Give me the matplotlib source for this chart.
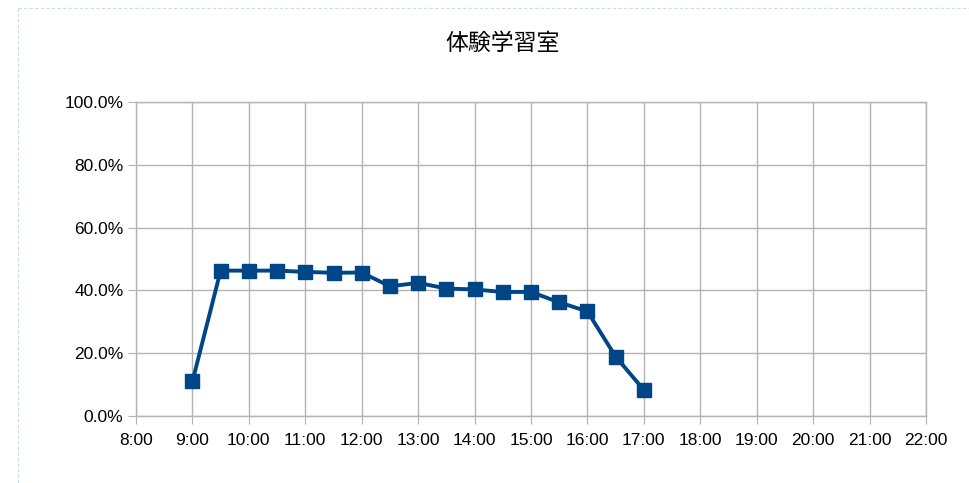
import numpy as np
import matplotlib.pyplot as plt
from matplotlib.lines import Line2D

plt.rcParams['font.family'] = ['Liberation Sans', 'Noto Sans CJK JP', 'DejaVu Sans']

# data (usage rate per half hour)
times = ['9:00', '9:30', '10:00', '10:30', '11:00', '11:30', '12:00', '12:30',
         '13:00', '13:30', '14:00', '14:30', '15:00', '15:30', '16:00', '16:30', '17:00']
rates = [11.0, 46.3, 46.3, 46.3, 45.9, 45.6, 45.7, 41.3,
         42.4, 40.6, 40.3, 39.5, 39.5, 36.2, 33.3, 18.9, 8.3]
hour_ticks = list(range(8, 23))
hour_labels = [f'{h}:00' for h in hour_ticks]
y_ticks = [0, 20, 40, 60, 80, 100]
title = '体験学習室'


def to_hours(t):
    h, m = t.split(':')
    return int(h) + int(m) / 60.0


def main():
    x = np.array([to_hours(t) for t in times])

    fig = plt.figure(figsize=(9.7, 4.83), dpi=100)
    ax = fig.add_axes([136 / 970, 1 - 416 / 483, 790 / 970, 314 / 483])

    grid_c = '#b3b3b3'
    ax.set_xlim(8, 22)
    ax.set_ylim(0, 100)
    ax.set_xticks(hour_ticks)
    ax.set_xticklabels(hour_labels)
    ax.set_yticks(y_ticks)
    ax.set_yticklabels([f'{v:.1f}%' for v in y_ticks])
    ax.grid(True, color=grid_c, linewidth=1.0)
    ax.set_axisbelow(True)
    for s in ax.spines.values():
        s.set_color(grid_c)
        s.set_linewidth(1.0)
    ax.tick_params(axis='both', direction='out', length=5.5, color=grid_c,
                   labelsize=12.5, labelcolor='black', pad=3.5)
    ax.tick_params(axis='x', pad=7)

    ax.plot(x, rates, color='#004586', linewidth=2.8, marker='s',
            markersize=10, markerfacecolor='#004586', markeredgecolor='#004586',
            clip_on=False, zorder=5)

    fig.text(503 / 970, 1 - 43 / 483, title, ha='center', va='center',
             fontsize=16.5, family=['Noto Sans CJK JP', 'DejaVu Sans'])

    # dashed selection frame
    frame_c = '#c6dcf2'
    fig.add_artist(Line2D([18 / 970, 18 / 970], [0, 1 - 8 / 483], transform=fig.transFigure,
                          color=frame_c, linestyle=(0, (3, 2)), linewidth=0.8))
    fig.add_artist(Line2D([18 / 970, 1], [1 - 8 / 483, 1 - 8 / 483], transform=fig.transFigure,
                          color=frame_c, linestyle=(0, (3, 2)), linewidth=0.8))

    fig.savefig('out.png', dpi=100)


if __name__ == '__main__':
    main()
